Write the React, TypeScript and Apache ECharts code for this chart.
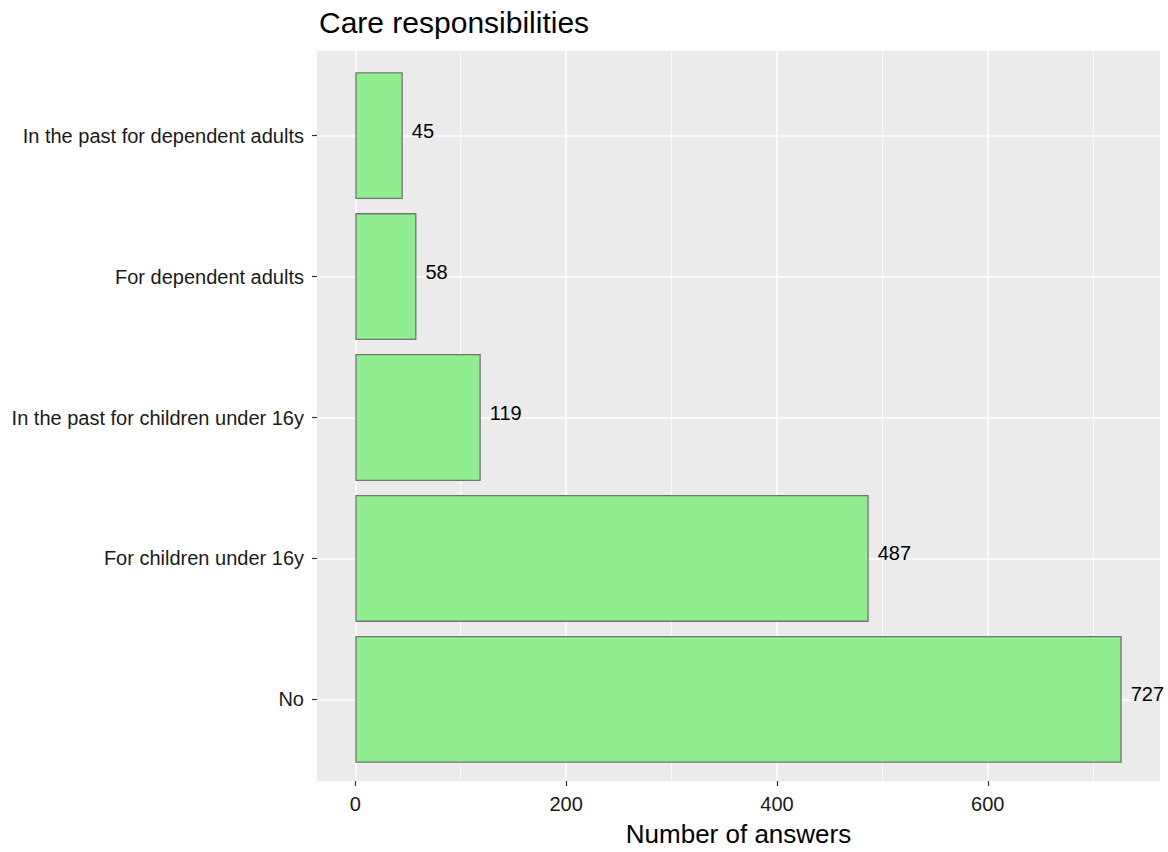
import React, { useEffect, useRef } from "react";
import * as echarts from "echarts";

const categories = [
  "No",
  "For children under 16y",
  "In the past for children under 16y",
  "For dependent adults",
  "In the past for dependent adults",
];
const counts = [727, 487, 119, 58, 45];
const majorTicks = [0, 200, 400, 600];
const minorTicks = [100, 300, 500, 700];
const categoryPositions = [1, 2, 3, 4, 5];

const X_MIN = -36.35;
const X_MAX = 763.35;

const FONT = "'Liberation Sans', Arial, sans-serif";

export default function App() {
  const ref = useRef<HTMLDivElement>(null);
  useEffect(() => {
    if (!ref.current) return;
    const chart = echarts.init(ref.current, null, { renderer: "svg" });
    const panelLeft = 317;
    const panelTop = 51;
    const panelW = 843;
    const panelH = 733;
    const band = panelH / 5.2;
    const pad = band * 0.1;
    chart.setOption({
      animation: false,
      textStyle: { fontFamily: FONT },
      title: {
        text: "Care responsibilities",
        left: 314,
        top: 2,
        textStyle: { fontSize: 30, fontWeight: "normal", color: "#000", fontFamily: FONT },
      },
      grid: [
        {
          left: panelLeft,
          top: panelTop,
          width: panelW,
          height: panelH,
          show: true,
          backgroundColor: "#EBEBEB",
          borderWidth: 0,
        },
        {
          left: panelLeft,
          top: panelTop + pad,
          width: panelW,
          height: panelH - 2 * pad,
          show: false,
        },
      ],
      xAxis: [
        {
          type: "value",
          gridIndex: 0,
          min: X_MIN,
          max: X_MAX,
          name: "Number of answers",
          nameLocation: "middle",
          nameGap: 40,
          nameTextStyle: { fontSize: 26, color: "#000", fontFamily: FONT },
          axisLine: { show: false, onZero: false },
          axisTick: { show: true, customValues: majorTicks, length: 5, lineStyle: { color: "#333", width: 1.2 } },
          axisLabel: { customValues: majorTicks, fontSize: 20, color: "#1a1a1a", margin: 13, fontFamily: FONT },
          splitLine: { show: true, lineStyle: { color: "#FFFFFF", width: 1.6 } },
        },
        {
          type: "value",
          gridIndex: 0,
          position: "bottom",
          min: X_MIN,
          max: X_MAX,
          axisLine: { show: false, onZero: false },
          axisTick: { show: false, customValues: minorTicks },
          axisLabel: { show: false, customValues: minorTicks },
          splitLine: { show: true, lineStyle: { color: "#FFFFFF", width: 0.8 } },
        },
        {
          type: "value",
          gridIndex: 1,
          min: X_MIN,
          max: X_MAX,
          show: false,
          axisLine: { onZero: false },
          splitLine: { show: false },
        },
      ],
      yAxis: [
        {
          type: "value",
          gridIndex: 0,
          min: 0,
          max: 1,
          show: false,
          axisLine: { onZero: false },
          splitLine: { show: false },
        },
        {
          type: "category",
          gridIndex: 1,
          position: "left",
          data: categories,
          axisLine: { show: false, onZero: false },
          axisTick: { show: true, alignWithLabel: true, length: 5, lineStyle: { color: "#333", width: 1.2 } },
          axisLabel: { fontSize: 20, color: "#1a1a1a", margin: 13, fontFamily: FONT },
          splitLine: { show: false },
        },
        {
          type: "value",
          gridIndex: 1,
          min: 0.5,
          max: 5.5,
          position: "right",
          axisLine: { show: false, onZero: false },
          axisTick: { show: false, customValues: categoryPositions },
          axisLabel: { show: false, customValues: categoryPositions },
          splitLine: { show: true, lineStyle: { color: "#FFFFFF", width: 1.6 } },
        },
      ],
      series: [
        {
          type: "bar",
          xAxisIndex: 2,
          yAxisIndex: 1,
          data: counts,
          barWidth: "90%",
          itemStyle: { color: "#90EE90", borderColor: "#737373", borderWidth: 1.3 },
          label: {
            show: true,
            position: "right",
            distance: 9,
            offset: [0, -5],
            fontSize: 20,
            color: "#000",
            fontFamily: FONT,
          },
        },
      ],
    });
    return () => chart.dispose();
  }, []);
  return (
    <div
      ref={ref}
      style={{ position: "fixed", left: 0, top: 0, width: 1168, height: 852, background: "#fff" }}
    />
  );
}
